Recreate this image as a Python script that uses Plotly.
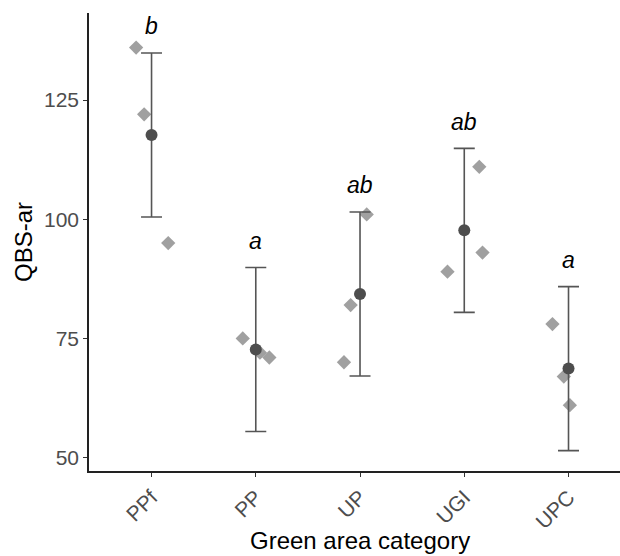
import plotly.graph_objects as go

categories = ["PPf", "PP", "UP", "UGI", "UPC"]
means = [117.67, 72.67, 84.33, 97.67, 68.67]
err_half = [17.2, 17.2, 17.2, 17.2, 17.2]
letters = ["b", "a", "ab", "ab", "a"]

# individual observations (value) with their horizontal jitter (category units)
obs_cat = [0, 0, 0, 1, 1, 1, 2, 2, 2, 3, 3, 3, 4, 4, 4]
obs_val = [136, 122, 95, 75, 72, 71, 82, 70, 101, 111, 93, 89, 78, 67, 61]
obs_jit = [-0.148, -0.071, 0.16, -0.125, 0.04, 0.13, -0.09, -0.154, 0.064,
           0.144, 0.175, -0.161, -0.154, -0.045, 0.013]

FONT = "Liberation Sans, Arial, sans-serif"

fig = go.Figure()
fig.add_trace(go.Scatter(
    x=[c + j for c, j in zip(obs_cat, obs_jit)], y=obs_val, mode="markers",
    marker=dict(symbol="diamond", size=11, color="#a0a0a0", line=dict(width=0)),
    hoverinfo="skip", showlegend=False))
fig.add_trace(go.Scatter(
    x=list(range(len(categories))), y=means, mode="markers",
    marker=dict(symbol="circle", size=12, color="#4d4d4d", line=dict(width=0)),
    error_y=dict(type="data", array=err_half, visible=True, color="#555555",
                 thickness=1.6, width=10.5),
    showlegend=False))

for i, (m, e, l) in enumerate(zip(means, err_half, letters)):
    fig.add_annotation(x=i, y=m + e + 5.6, text="<i>" + l + "</i>", showarrow=False,
                       font=dict(family=FONT, size=23, color="black"),
                       xanchor="center", yanchor="middle")

fig.add_annotation(x=2, xref="x", y=0, yref="paper", text="Green area category",
                   showarrow=False, yanchor="top", yshift=-54,
                   font=dict(family=FONT, size=24, color="black"))
fig.add_annotation(x=0, xref="paper", y=0.5, yref="paper", text="QBS-ar",
                   showarrow=False, textangle=-90, xanchor="center", xshift=-66,
                   font=dict(family=FONT, size=24, color="black"))

fig.update_layout(
    width=620, height=556, margin=dict(l=89, r=0, t=13, b=85),
    plot_bgcolor="white", paper_bgcolor="white",
    font=dict(family=FONT),
    xaxis=dict(range=[-0.6, 4.494], tickvals=list(range(len(categories))),
               ticktext=categories, tickangle=-45, showgrid=False, zeroline=False,
               showline=True, linecolor="#222222", linewidth=1.6,
               ticks="outside", ticklen=4, tickwidth=1.4, tickcolor="#333333",
               tickfont=dict(family=FONT, size=21, color="#4d4d4d")),
    yaxis=dict(range=[47.19, 143.26], tickvals=[50, 75, 100, 125],
               showgrid=False, zeroline=False,
               showline=True, linecolor="#222222", linewidth=1.6,
               ticks="outside", ticklen=4, tickwidth=1.4, tickcolor="#333333",
               tickfont=dict(family=FONT, size=21, color="#4d4d4d")),
)

fig.write_html("out.html")
